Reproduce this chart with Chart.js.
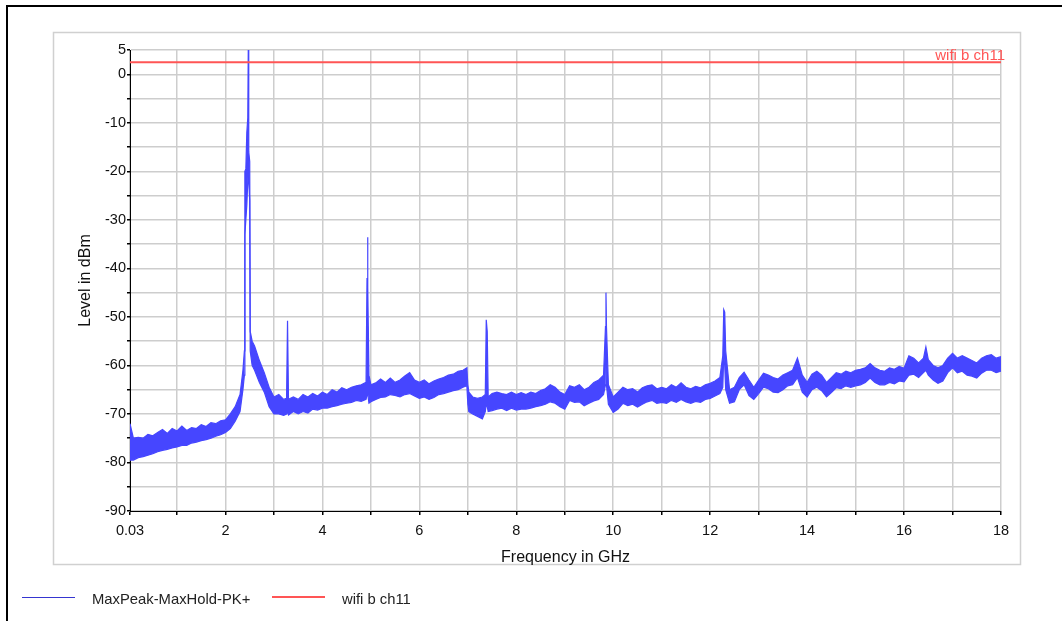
<!DOCTYPE html>
<html>
<head>
<meta charset="utf-8">
<script src="https://cdn.jsdelivr.net/npm/chart.js@4"></script>
<style>
  html, body { margin: 0; padding: 0; background: #fff; }
  #wrap { width: 1062px; height: 621px; position: relative; }
</style>
</head>
<body>
<div id="wrap"><canvas id="myChart" width="1062" height="621"></canvas></div>
<script>
// frequency points in GHz (denser around the spikes)
const freqs = [
  0.03, 0.1, 0.2, 0.3, 0.4, 0.5, 0.6, 0.7, 0.8, 0.9,
  1.0, 1.1, 1.2, 1.3, 1.4, 1.5, 1.6, 1.7, 1.8, 1.9,
  2.0, 2.1, 2.2, 2.3, 2.36, 2.39, 2.40, 2.42, 2.44, 2.46, 2.47, 2.48, 2.50, 2.51, 2.55, 2.6, 2.7, 2.8, 2.9,
  3.0, 3.1, 3.2, 3.26, 3.28, 3.30, 3.4, 3.5, 3.6, 3.7, 3.8, 3.9,
  4.0, 4.1, 4.2, 4.3, 4.4, 4.5, 4.6, 4.7, 4.8, 4.9, 4.92, 4.93, 4.94, 4.96,
  5.0, 5.1, 5.2, 5.3, 5.4, 5.5, 5.6, 5.7, 5.8, 5.9,
  6.0, 6.1, 6.2, 6.3, 6.4, 6.5, 6.6, 6.7, 6.8, 6.9, 6.98,
  7.0, 7.02, 7.1, 7.2, 7.3, 7.36, 7.38, 7.40, 7.42, 7.5, 7.6, 7.7, 7.8, 7.9,
  8.0, 8.1, 8.2, 8.3, 8.4, 8.5, 8.6, 8.7, 8.8, 8.9,
  9.0, 9.1, 9.2, 9.3, 9.4, 9.5, 9.6, 9.7, 9.8, 9.84, 9.85, 9.86, 9.9,
  10.0, 10.1, 10.2, 10.3, 10.4, 10.5, 10.6, 10.7, 10.8, 10.9,
  11.0, 11.1, 11.2, 11.3, 11.4, 11.5, 11.6, 11.7, 11.8, 11.9,
  12.0, 12.1, 12.2, 12.26, 12.28, 12.30, 12.32, 12.4, 12.5, 12.6, 12.7, 12.8, 12.9,
  13.0, 13.1, 13.2, 13.3, 13.4, 13.5, 13.6, 13.7, 13.8, 13.9,
  14.0, 14.1, 14.2, 14.3, 14.4, 14.5, 14.6, 14.7, 14.8, 14.9,
  15.0, 15.1, 15.2, 15.3, 15.4, 15.5, 15.6, 15.7, 15.8, 15.9,
  16.0, 16.1, 16.2, 16.3, 16.4, 16.45, 16.5, 16.6, 16.7, 16.8, 16.9,
  17.0, 17.1, 17.2, 17.3, 17.4, 17.5, 17.6, 17.7, 17.8, 17.9, 18.0
];

// MaxPeak-MaxHold-PK+ trace, top edge of the noise band (dBm)
const peakUpper = [
  -72, -75, -74.8, -75, -74.2, -74.5, -73.8, -73.2, -74, -73,
  -73.5, -72.5, -73.4, -72.8, -73, -72.2, -72.6, -71.8, -72, -71.4,
  -71.2, -70, -68.5, -66, -61, -57, -20, -19.5, -12, -9, 5, -16, -18, -53, -55, -56, -59, -61.5, -64.5,
  -66.5, -66, -67, -66.8, -50.8, -67, -66.5, -67, -66, -66.5, -65.8, -66.3,
  -65.5, -66, -65, -65.5, -64.6, -65, -64.5, -64.2, -64, -63.5, -42, -33.6, -44, -62,
  -64, -63.6, -62.8, -63.5, -62.6, -63.5, -63, -62.2, -61.5, -63,
  -63.5, -63, -63.8, -63.2, -62.8, -62.5, -62, -61.8, -61.2, -61, -60.5,
  -64, -65.5, -66.5, -66.8, -66.5, -66, -50.6, -53, -66.5, -65.8, -65.5, -65.8, -66, -65.5,
  -66, -65.6, -66, -65.5, -65.8, -65.2, -64.8, -64, -64.5, -65.5,
  -66, -64.2, -64.5, -64, -65, -64.5, -63.5, -63, -62, -52, -45, -52, -64,
  -66.5, -65.5, -64.5, -65, -64.8, -65.5, -64.6, -64.2, -64, -64.8,
  -64.5, -64.8, -64, -64.5, -63.6, -64.5, -64.8, -64.3, -64.6, -64,
  -63.7, -63.2, -62.5, -58, -48.5, -49, -57, -65, -64.5, -62.5, -61.4, -63, -64.5,
  -63, -61.6, -62, -62.5, -62.8, -62, -61.5, -61, -58.5, -62,
  -63.5, -61.8, -61.2, -62, -63.5, -62.5, -61.5, -61.8, -61.2, -61.5,
  -61, -60.8, -60.5, -59.6, -60.5, -61, -61.2, -60.5, -60.8, -60.2,
  -60.6, -58, -58.5, -59.5, -58.5, -56.2, -58.8, -60, -60.5, -60, -58.5,
  -57.5, -58.5, -58, -58.5, -59, -59.5, -58.5, -58, -57.8, -58.5, -58.2
];

// bottom edge of the noise band (dBm)
const peakLower = [
  -79.5, -79.5, -79, -78.8, -78.5, -78.2, -77.8, -77.5, -77.3, -77,
  -76.8, -76.5, -76.5, -76, -75.8, -75.5, -75.3, -75, -74.6, -74.3,
  -73.8, -73, -71.5, -69.5, -65, -62, -33, -30, -27, -22, -20, -22, -26, -57, -60, -61, -63.5, -65.5, -68.5,
  -70, -70, -70.3, -70, -69.5, -70.2, -69.5, -70, -69.5, -69.8, -69, -69.2,
  -68.8, -68.8, -68.5, -68.3, -68, -67.8, -67.6, -67.2, -67.4, -67, -66, -52, -66, -67.8,
  -67.5, -67, -66.6, -66.5, -66, -66.2, -66.5, -66, -65.8, -66.3,
  -66.8, -66.5, -67, -66.6, -66, -65.8, -65.5, -65.2, -65, -64.5, -64.2,
  -68, -69.5, -70, -70.5, -71, -69.5, -68, -68.5, -69.5, -69.3, -69, -68.8, -69.3, -68.8,
  -69.2, -69, -69, -68.8, -68.5, -68.3, -68, -67.5, -67.8, -68.5,
  -69, -67.2, -67.6, -67.5, -68.3, -67.8, -67.3, -67, -66, -64, -60, -64, -68,
  -69.7, -69, -67.8, -68.3, -68, -68.6, -68, -67.5, -67.2, -67.8,
  -67.6, -67.8, -67.2, -67.6, -67, -67.5, -67.8, -67.4, -67.6, -67,
  -66.8, -66.3, -65.8, -64.5, -58, -60, -65, -67.8, -67.5, -65, -64, -66.2, -67,
  -65.8, -64.5, -64.8, -65.5, -65.6, -65, -64.2, -64, -62.5, -65.5,
  -66.5, -65, -64.5, -65.2, -66.5, -65.6, -64.6, -64.8, -64.2, -64.5,
  -64.2, -64, -63.5, -62.6, -63.5, -64, -64, -63.5, -63.8, -63.2,
  -63.4, -62, -61.8, -62.5, -61.5, -61, -62, -63, -63.7, -63.2, -61.5,
  -60.5, -61.5, -61.2, -62, -62.2, -62.6, -61.6, -61, -61, -61.5, -61.2
];

const limitLevel = 2.5;
const limitRange = [0.03, 18];

const xTicks = [0.03, 1, 2, 3, 4, 5, 6, 7, 8, 9, 10, 11, 12, 13, 14, 15, 16, 17, 18];
const xLabels = [0.03, 2, 4, 6, 8, 10, 12, 14, 16, 18];
const yTicks = [-90, -85, -80, -75, -70, -65, -60, -55, -50, -45, -40, -35, -30, -25, -20, -15, -10, -5, 0, 5];
const yLabels = [-90, -80, -70, -60, -50, -40, -30, -20, -10, 0, 5];

const traceName = 'MaxPeak-MaxHold-PK+';
const limitName = 'wifi b ch11';

const BLUE = 'rgb(70, 70, 255)';
const RED = 'rgb(255, 85, 85)';
const FONT = '"Liberation Sans", Arial, sans-serif';

// frame, grey panel, legend and the limit label
const decorations = {
    id: 'decorations',
    beforeDraw(chart) {
        const ctx = chart.ctx;
        ctx.save();
        ctx.fillStyle = '#fff';
        ctx.fillRect(0, 0, chart.width, chart.height);
        ctx.strokeStyle = '#d0d0d0';
        ctx.lineWidth = 1.5;
        ctx.strokeRect(53.5, 32.5, 967, 532);
        ctx.fillStyle = '#000';
        ctx.fillRect(6, 5, 2, chart.height - 5);
        ctx.fillRect(6, 5, chart.width - 6, 2);
        ctx.restore();
    },
    afterDraw(chart) {
        const ctx = chart.ctx;
        const area = chart.chartArea;
        ctx.save();
        ctx.font = '15px ' + FONT;
        ctx.fillStyle = RED;
        ctx.textAlign = 'right';
        ctx.textBaseline = 'alphabetic';
        ctx.fillText(limitName, area.right + 4, 60);

        // legend
        ctx.lineWidth = 1;
        ctx.strokeStyle = '#3535d0';
        ctx.beginPath();
        ctx.moveTo(22, 597.5);
        ctx.lineTo(75, 597.5);
        ctx.stroke();
        ctx.lineWidth = 2;
        ctx.strokeStyle = RED;
        ctx.beginPath();
        ctx.moveTo(272, 597);
        ctx.lineTo(325, 597);
        ctx.stroke();
        ctx.font = '14.8px ' + FONT;
        ctx.fillStyle = '#222';
        ctx.textAlign = 'left';
        ctx.textBaseline = 'middle';
        ctx.fillText(traceName, 92, 600);
        ctx.fillText(limitName, 342, 600);
        ctx.restore();
    }
};

const myChart = document.getElementById('myChart');

let globalChart = new Chart(myChart, {
    type: 'line',
    data: {
        datasets: [{
            label: traceName,
            data: freqs.map((f, i) => ({x: f, y: peakUpper[i]})),
            borderColor: BLUE,
            backgroundColor: BLUE,
            borderWidth: 1.2,
            pointRadius: 0,
            fill: '+1',
            order: 2
        }, {
            label: traceName + ' low',
            data: freqs.map((f, i) => ({x: f, y: peakLower[i]})),
            borderColor: BLUE,
            borderWidth: 1.2,
            pointRadius: 0,
            fill: false,
            order: 2
        }, {
            label: limitName,
            data: limitRange.map(f => ({x: f, y: limitLevel})),
            borderColor: RED,
            borderWidth: 2,
            pointRadius: 0,
            fill: false,
            order: 1
        }]
    },
    options: {
        responsive: false,
        animation: false,
        layout: {
            padding: {left: 76, right: 61, top: 50, bottom: 54}
        },
        scales: {
            x: {
                type: 'linear',
                min: 0.03,
                max: 18,
                afterFit: scale => { scale.height = 56; },
                afterBuildTicks: scale => { scale.ticks = xTicks.map(v => ({value: v})); },
                grid: {
                    color: '#cdcdcd',
                    lineWidth: 1.5,
                    tickColor: '#000',
                    tickLength: 4
                },
                border: {color: '#000', width: 1},
                ticks: {
                    autoSkip: false,
                    maxRotation: 0,
                    padding: 7,
                    color: '#111',
                    font: {family: FONT, size: 14.5},
                    callback: v => xLabels.includes(v) ? String(v) : ''
                },
                title: {
                    display: true,
                    text: 'Frequency in GHz',
                    color: '#111',
                    font: {family: FONT, size: 16},
                    padding: 0
                }
            },
            y: {
                min: -90,
                max: 5,
                afterFit: scale => { scale.width = 54; },
                afterBuildTicks: scale => { scale.ticks = yTicks.map(v => ({value: v})); },
                grid: {
                    color: '#cdcdcd',
                    lineWidth: 1.5,
                    tickColor: '#000',
                    tickLength: 3
                },
                border: {color: '#000', width: 1},
                ticks: {
                    autoSkip: false,
                    padding: 1,
                    color: '#111',
                    font: {family: FONT, size: 14.5},
                    callback: v => yLabels.includes(v) ? String(v) : ''
                },
                title: {
                    display: true,
                    text: 'Level in dBm',
                    color: '#111',
                    font: {family: FONT, size: 16},
                    padding: 0
                }
            }
        },
        plugins: {
            legend: {display: false},
            tooltip: {enabled: false}
        }
    },
    plugins: [decorations]
});
</script>
</body>
</html>
